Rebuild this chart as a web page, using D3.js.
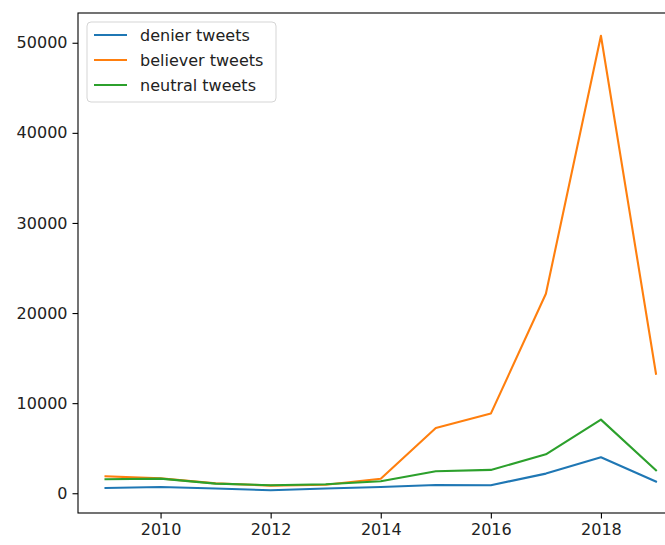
<!DOCTYPE html>
<html>
<head>
<meta charset="utf-8">
<script src="https://cdn.jsdelivr.net/npm/d3@7"></script>
<style>
  html, body { margin: 0; padding: 0; background: #fff; }
  svg text { font-family: "DejaVu Sans", sans-serif; }
</style>
</head>
<body>
<svg id="chart" width="665" height="545"></svg>
<script>
// data
const years = [2009, 2010, 2011, 2012, 2013, 2014, 2015, 2016, 2017, 2018, 2019];
const denierTweets   = [590, 700, 520, 330, 520, 700, 920, 890, 2180, 3990, 1290];
const believerTweets = [1880, 1650, 1100, 850, 950, 1600, 7240, 8840, 22140, 50780, 13270];
const neutralTweets  = [1550, 1620, 1070, 890, 1000, 1330, 2440, 2590, 4320, 8170, 2550];
const seriesNames = ['denier tweets', 'believer tweets', 'neutral tweets'];
const seriesColors = ['#1f77b4', '#ff7f0e', '#2ca02c'];
const xTicks = [2010, 2012, 2014, 2016, 2018];
const yTicks = [0, 10000, 20000, 30000, 40000, 50000];

const svg = d3.select('#chart');
const margin = { left: 78, top: 13, right: 683.5, bottom: 513 };

const series = [denierTweets, believerTweets, neutralTweets].map((vals, i) => ({
  name: seriesNames[i],
  color: seriesColors[i],
  values: vals.map((v, j) => ({ year: years[j], value: v }))
}));

// matplotlib-style 5% margins
const allVals = [].concat(denierTweets, believerTweets, neutralTweets);
const yMin = d3.min(allVals), yMax = d3.max(allVals);
const yPad = (yMax - yMin) * 0.05;
const xPad = (d3.max(years) - d3.min(years)) * 0.05;

const x = d3.scaleLinear()
  .domain([d3.min(years) - xPad, d3.max(years) + xPad])
  .range([margin.left, margin.right]);
const y = d3.scaleLinear()
  .domain([yMin - yPad, yMax + yPad])
  .range([margin.bottom, margin.top]);

// lines
const line = d3.line()
  .x(d => x(d.year))
  .y(d => y(d.value));

svg.append('g')
  .selectAll('path')
  .data(series)
  .enter().append('path')
  .attr('d', d => line(d.values))
  .attr('fill', 'none')
  .attr('stroke', d => d.color)
  .attr('stroke-width', 2.1)
  .attr('stroke-linejoin', 'round')
  .attr('stroke-linecap', 'square');

// axes
const xAxis = svg.append('g')
  .attr('transform', `translate(0,${margin.bottom})`)
  .call(d3.axisBottom(x).tickValues(xTicks).tickFormat(d3.format('d')).tickSize(5.5).tickPadding(5));
const yAxis = svg.append('g')
  .attr('transform', `translate(${margin.left},0)`)
  .call(d3.axisLeft(y).tickValues(yTicks).tickFormat(d3.format('d')).tickSize(5.5).tickPadding(5));

[xAxis, yAxis].forEach(ax => {
  ax.select('.domain').remove();
  ax.selectAll('.tick line').attr('stroke', '#000').attr('stroke-width', 1.1);
  ax.selectAll('.tick text').attr('fill', '#222').style('font-size', '16px');
});

// spines
svg.append('rect')
  .attr('x', margin.left)
  .attr('y', margin.top)
  .attr('width', margin.right - margin.left)
  .attr('height', margin.bottom - margin.top)
  .attr('fill', 'none')
  .attr('stroke', '#000')
  .attr('stroke-width', 1.1);

// legend
const legend = svg.append('g').attr('transform', 'translate(87,22)');
legend.append('rect')
  .attr('width', 189)
  .attr('height', 80)
  .attr('rx', 4)
  .attr('fill', '#fff')
  .attr('fill-opacity', 0.8)
  .attr('stroke', '#d5d5d5')
  .attr('stroke-width', 1);

const items = legend.selectAll('g.item')
  .data(series)
  .enter().append('g')
  .attr('class', 'item')
  .attr('transform', (d, i) => `translate(0,${13 + i * 25})`);

items.append('line')
  .attr('x1', 7).attr('x2', 40)
  .attr('stroke', d => d.color)
  .attr('stroke-width', 2.1);

items.append('text')
  .attr('x', 53)
  .attr('dy', '0.35em')
  .attr('fill', '#222')
  .style('font-size', '16px')
  .text(d => d.name);
</script>
</body>
</html>
